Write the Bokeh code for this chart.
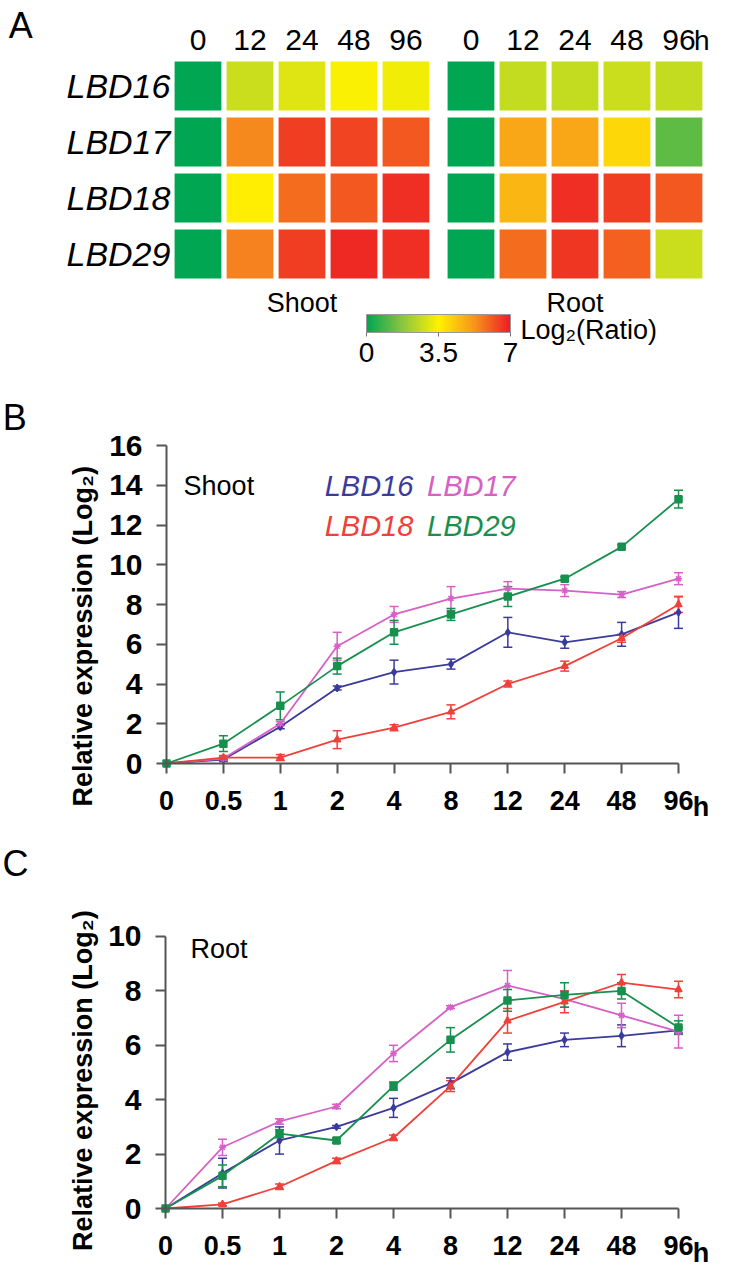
import math
import numpy as np
from bokeh.plotting import figure
from bokeh.models import (ColumnDataSource, Range1d, LinearColorMapper, ColorBar,
                          FixedTicker, Whisker, TeeHead)
from bokeh.layouts import column
from bokeh.embed import file_html
from bokeh.resources import INLINE
from bokeh.core.properties import value

FONT = "Liberation Sans"

# ---------------- data ----------------
genes = ["LBD16", "LBD17", "LBD18", "LBD29"]
heat_times = ["0", "12", "24", "48", "96"]
shoot_heat = [
    [0.0, 2.7, 3.0, 3.4, 3.3],
    [0.0, 5.4, 6.5, 6.4, 6.1],
    [0.0, 3.6, 5.8, 6.1, 6.7],
    [0.0, 5.5, 6.5, 6.8, 6.7],
]
root_heat = [
    [0.0, 2.6, 2.6, 2.7, 2.6],
    [0.0, 4.9, 4.9, 4.0, 1.2],
    [0.0, 4.6, 6.7, 6.5, 6.1],
    [0.0, 5.8, 6.6, 6.0, 2.7],
]
cbar_ticks = [0, 3.5, 7]
cbar_labels = ["0", "3.5", "7"]

time_labels = ["0", "0.5", "1", "2", "4", "8", "12", "24", "48", "96"]

shoot_16 = [0, 0.2, 1.85, 3.8, 4.6, 5.0, 6.6, 6.1, 6.5, 7.6]
shoot_16_err = [0, 0.1, 0.1, 0.1, 0.6, 0.25, 0.75, 0.3, 0.6, 0.8]
shoot_17 = [0, 0.25, 2.0, 5.9, 7.5, 8.3, 8.8, 8.7, 8.5, 9.3]
shoot_17_err = [0, 0.1, 0.1, 0.7, 0.4, 0.6, 0.35, 0.3, 0.15, 0.3]
shoot_18 = [0, 0.3, 0.3, 1.2, 1.8, 2.6, 4.0, 4.9, 6.3, 8.0]
shoot_18_err = [0, 0.1, 0.15, 0.45, 0.15, 0.35, 0.15, 0.25, 0.2, 0.4]
shoot_29 = [0, 1.0, 2.9, 4.9, 6.6, 7.5, 8.4, 9.3, 10.9, 13.3]
shoot_29_err = [0, 0.4, 0.7, 0.4, 0.6, 0.3, 0.5, 0.1, 0.1, 0.45]

root_16 = [0, 1.3, 2.5, 3.0, 3.7, 4.6, 5.75, 6.2, 6.35, 6.55]
root_16_err = [0, 0.55, 0.5, 0.05, 0.35, 0.2, 0.3, 0.25, 0.4, 0.1]
root_17 = [0, 2.25, 3.2, 3.75, 5.7, 7.4, 8.2, 7.7, 7.1, 6.5]
root_17_err = [0, 0.3, 0.1, 0.08, 0.3, 0.05, 0.55, 0.3, 0.45, 0.6]
root_18 = [0, 0.15, 0.8, 1.75, 2.6, 4.5, 6.9, 7.6, 8.3, 8.05]
root_18_err = [0, 0.05, 0.1, 0.1, 0.1, 0.2, 0.45, 0.4, 0.3, 0.3]
root_29 = [0, 1.2, 2.75, 2.5, 4.5, 6.2, 7.65, 7.85, 8.0, 6.65]
root_29_err = [0, 0.4, 0.15, 0.1, 0.15, 0.45, 0.4, 0.45, 0.3, 0.25]

shoot_yticks = [0, 2, 4, 6, 8, 10, 12, 14, 16]
root_yticks = [0, 2, 4, 6, 8, 10]

# ---------------- style ----------------
COL = {"LBD16": "#3b3b9c", "LBD17": "#d660c6", "LBD18": "#f0403a", "LBD29": "#17904e"}
MARK = {"LBD16": "diamond", "LBD17": "asterisk", "LBD18": "triangle", "LBD29": "square"}

anchors_v = [0.0, 1.75, 3.5, 5.25, 7.0]
anchors_c = ["#00a651", "#8cc63f", "#fff200", "#f7941d", "#ed1c24"]


def hex2rgb(h):
    return [int(h[i:i + 2], 16) for i in (1, 3, 5)]


rgb = np.array([hex2rgb(c) for c in anchors_c], dtype=float)
palette = []
for g in np.linspace(0, 7, 256):
    r = np.interp(g, anchors_v, rgb[:, 0])
    gg = np.interp(g, anchors_v, rgb[:, 1])
    b = np.interp(g, anchors_v, rgb[:, 2])
    palette.append("#%02x%02x%02x" % (int(round(r)), int(round(gg)), int(round(b))))
mapper = LinearColorMapper(palette=palette, low=0, high=7)


def txt(p, x, y, s, size, align="left", baseline="middle", style="normal",
        color="black", angle=0.0):
    p.text(x=[x], y=[y], text=[s], text_align=align, text_baseline=baseline,
           text_font=value(FONT), text_font_size=size, text_font_style=style,
           text_color=color, angle=angle)


# ---------------- panel A ----------------
ROOT_OFF = 5.25
pA = figure(width=713, height=382, x_range=Range1d(-3.798, 9.914),
            y_range=Range1d(-5.295, 1.527), x_axis_type=None, y_axis_type=None,
            min_border=0, toolbar_location=None, output_backend="svg",
            outline_line_color=None)
pA.grid.visible = False

hx, hy, hv = [], [], []
for i, g in enumerate(genes):
    for j in range(len(heat_times)):
        hx.append(j); hy.append(-i); hv.append(shoot_heat[i][j])
        hx.append(j + ROOT_OFF); hy.append(-i); hv.append(root_heat[i][j])
srcA = ColumnDataSource(dict(x=hx, y=hy, v=hv))
pA.rect(x="x", y="y", width=0.9, height=0.875, source=srcA,
        fill_color={"field": "v", "transform": mapper}, line_color=None)

hdr_x = list(range(len(heat_times))) + [j + ROOT_OFF for j in range(len(heat_times))]
pA.text(x=hdr_x, y=[0.82] * len(hdr_x), text=heat_times + heat_times,
        text_align="center", text_baseline="middle", text_font=value(FONT),
        text_font_size="30px", text_color="black")
txt(pA, 9.54, 0.82, "h", "28px")
pA.text(x=[-0.53] * len(genes), y=[-i for i in range(len(genes))], text=genes,
        text_align="right", text_baseline="middle", text_font=value(FONT),
        text_font_size="34px", text_font_style="italic", text_color="black")
txt(pA, 2, -3.88, "Shoot", "27px", align="center")
txt(pA, 2 + ROOT_OFF, -3.88, "Root", "27px", align="center")
txt(pA, 6.2, -4.36, "Log\u2082(Ratio)", "27px")
txt(pA, -3.64, 1.44, "A", "36px", baseline="top")

cb = ColorBar(color_mapper=mapper, orientation="horizontal", width=144, height=18,
              location=(366, 18), padding=0, ticker=FixedTicker(ticks=cbar_ticks),
              major_label_overrides={t: l for t, l in zip(cbar_ticks, cbar_labels)},
              major_label_text_font=FONT, major_label_text_font_size="28px",
              major_label_text_color="black",
              major_tick_in=0, major_tick_out=4, major_tick_line_color="#777777",
              bar_line_color="#999999", background_fill_alpha=0,
              border_line_color=None, label_standoff=6)
pA.add_layout(cb)


# ---------------- panels B / C ----------------
def line_panel(height, xr, yr, ymax, yticks, series, tag_xy, tag, tissue_xy, tissue,
               h_xy, ylab_xy, legend=None):
    p = figure(width=713, height=height, x_range=Range1d(*xr), y_range=Range1d(*yr),
               min_border=0, toolbar_location=None, output_backend="svg",
               outline_line_color=None)
    p.grid.visible = False
    xs = list(range(len(time_labels)))
    for name, vals, errs in series:
        c = COL[name]
        keep = [k for k in xs if errs[k] > 0]
        wsrc = ColumnDataSource(dict(x=keep, up=[vals[k] + errs[k] for k in keep],
                                     lo=[vals[k] - errs[k] for k in keep]))
        p.add_layout(Whisker(source=wsrc, base="x", upper="up", lower="lo",
                             line_color=c, line_width=1.5,
                             upper_head=TeeHead(size=9, line_color=c, line_width=1.5),
                             lower_head=TeeHead(size=9, line_color=c, line_width=1.5)))
        p.line(xs, vals, line_color=c, line_width=1.8)
        p.scatter(xs, vals, marker=MARK[name], size=7, fill_color=c, line_color=c,
                  line_width=1.5)
    xa = p.xaxis[0]
    ya = p.yaxis[0]
    xa.fixed_location = 0
    ya.fixed_location = 0
    xa.bounds = (0, len(time_labels) - 1)
    ya.bounds = (0, ymax)
    xa.ticker = FixedTicker(ticks=xs)
    xa.major_label_overrides = {i: t for i, t in enumerate(time_labels)}
    ya.ticker = FixedTicker(ticks=yticks)
    for ax in (xa, ya):
        ax.axis_line_color = "#555555"
        ax.axis_line_width = 2
        ax.major_tick_line_color = "#555555"
        ax.major_tick_line_width = 2
        ax.major_tick_in = 0
        ax.major_tick_out = 10
        ax.minor_tick_line_color = None
        ax.major_label_text_font = FONT
        ax.major_label_text_font_style = "bold"
        ax.major_label_text_color = "black"
    xa.major_label_text_font_size = "27px"
    ya.major_label_text_font_size = "30px"
    xa.major_label_standoff = 17
    ya.major_label_standoff = 14

    txt(p, ylab_xy[0], ylab_xy[1], "Relative expression (Log\u2082)", "27px",
        align="center", style="bold", angle=math.pi / 2)
    txt(p, tag_xy[0], tag_xy[1], tag, "36px", baseline="top")
    txt(p, tissue_xy[0], tissue_xy[1], tissue, "27px")
    txt(p, h_xy[0], h_xy[1], "h", "27px", style="bold")
    if legend:
        for name in genes:
            txt(p, legend[name][0], legend[name][1], name, "29px", style="italic",
                color=COL[name])
    return p


pB = line_panel(446, (-2.918, 9.615), (-3.270, 19.17), 16, shoot_yticks,
                [("LBD16", shoot_16, shoot_16_err), ("LBD17", shoot_17, shoot_17_err),
                 ("LBD18", shoot_18, shoot_18_err), ("LBD29", shoot_29, shoot_29_err)],
                (-2.88, 18.42), "B", (0.30, 13.94), "Shoot", (9.25, -2.21),
                (-1.47, 6.4),
                legend={"LBD16": (2.78, 13.94), "LBD17": (4.58, 13.94),
                        "LBD18": (2.78, 11.97), "LBD29": (4.58, 11.97)})

pC = line_panel(443, (-2.895, 9.614), (-2.316, 13.97), 10, root_yticks,
                [("LBD16", root_16, root_16_err), ("LBD17", root_17, root_17_err),
                 ("LBD18", root_18, root_18_err), ("LBD29", root_29, root_29_err)],
                (-2.86, 13.455), "C", (0.44, 9.558), "Root", (9.25, -1.62),
                (-1.45, 4.7))

layout = column(pA, pB, pC, spacing=0)
open("out.html", "w").write(file_html(layout, INLINE))
